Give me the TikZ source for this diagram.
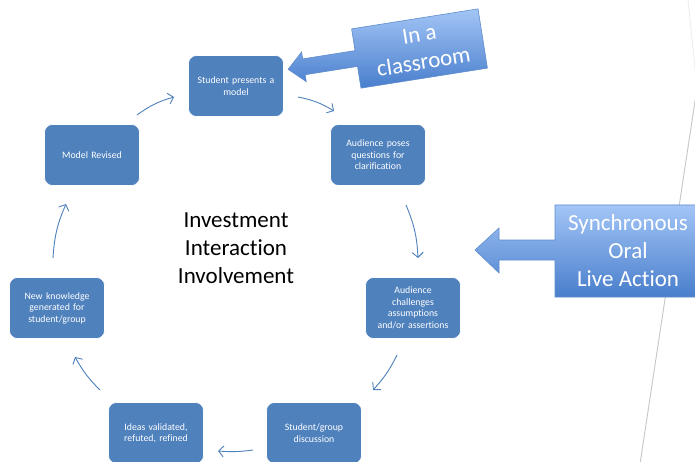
\documentclass[tikz,border=0pt]{standalone}
\usepackage{fontspec}
\setmainfont{Carlito}[Ligatures=NoCommon]
\usetikzlibrary{arrows.meta}
\definecolor{boxblue}{RGB}{79,129,189}
\definecolor{calltop}{RGB}{163,197,246}
\definecolor{callbot}{RGB}{72,126,204}
\definecolor{callborder}{RGB}{95,140,205}
\tikzset{
 cyclebox/.style={draw=white, line width=0.6pt, fill=boxblue, rounded corners=8pt,
   minimum width=95pt, minimum height=61pt, text width=90pt, align=center,
   text=white, font=\fontsize{9.8}{11.5}\selectfont, inner sep=0pt},
 cyclearrow/.style={draw=boxblue, line width=0.9pt,
   -{Straight Barb[length=5pt,width=11pt,line width=0.9pt]}},
 callout/.style={draw=callborder, line width=0.6pt, top color=calltop, bottom color=callbot},
 bigtext/.style={font=\fontsize{23}{28}\selectfont, align=center, inner sep=0pt},
}
\begin{document}
\begin{tikzpicture}[x=1pt,y=1pt]
\useasboundingbox (0,0) rectangle (695,-462);
\fill[white] (0,0) rectangle (695,-462);
% page edge lines
\draw[gray!15, line width=0.8pt] (688,0) -- (697,-88);
\draw[gray!45, line width=0.9pt] (697,-88) -- (640,-464);

% cycle boxes
\node[cyclebox] (sp) at (236,-86) {Student presents a\\model};
\node[cyclebox] (ap) at (378,-155) {Audience poses\\questions for\\clarification};
\node[cyclebox] (ac) at (413,-308) {Audience\\challenges\\assumptions\\and/or assertions};
\node[cyclebox] (sd) at (314,-433) {Student/group\\discussion};
\node[cyclebox] (iv) at (156,-433) {Ideas validated,\\refuted, refined};
\node[cyclebox] (nk) at (57,-308) {New knowledge\\generated for\\student/group};
\node[cyclebox] (mr) at (92,-155) {Model Revised};

% centre text
\node[bigtext] (ctr) at (236,-248) {Investment\\Interaction\\Involvement};

% cycle arrows
\coordinate (a1s) at (137,-115); \coordinate (a1e) at (174,-97);
\coordinate (a2s) at (298,-97);  \coordinate (a2e) at (334,-111);
\coordinate (a3s) at (406,-205); \coordinate (a3e) at (418,-258);
\coordinate (a4s) at (397,-355); \coordinate (a4e) at (373,-390);
\coordinate (a5s) at (253,-450); \coordinate (a5e) at (218,-451);
\coordinate (a6s) at (100,-390); \coordinate (a6e) at (75,-357);
\coordinate (a7s) at (53,-258);  \coordinate (a7e) at (66,-204);
\draw[cyclearrow] (a1s) to[bend left=10] (a1e);
\draw[cyclearrow] (a2s) to[bend left=10] (a2e);
\draw[cyclearrow] (a3s) to[bend left=10] (a3e);
\draw[cyclearrow] (a4s) to[bend left=8] (a4e);
\draw[cyclearrow] (a5s) to[bend left=6] (a5e);
\draw[cyclearrow] (a6s) to[bend left=8] (a6e);
\draw[cyclearrow] (a7s) to[bend left=10] (a7e);

% "In a classroom" callout
\begin{scope}[shift={(419.5,-48.5)}, rotate=9]
\path[callout] (64,30) -- (-64,30) -- (-64,8) -- (-117,8) -- (-117,15) -- (-133,0)
  -- (-117,-15) -- (-117,-8) -- (-64,-8) -- (-64,-30) -- (64,-30) -- cycle;
\node[bigtext, text=white, transform shape] (cls) at (2,0) {In a\\classroom};
\end{scope}

% "Synchronous" callout
\path[callout] (720,-205) -- (555,-205) -- (555,-240) -- (499,-240) -- (499,-228)
  -- (475,-250) -- (499,-273) -- (499,-260) -- (555,-260) -- (555,-297)
  -- (720,-297) -- cycle;
\node[bigtext, text=white] (syn) at (628,-251) {Synchronous\\Oral\\Live Action};
\end{tikzpicture}
\end{document}
